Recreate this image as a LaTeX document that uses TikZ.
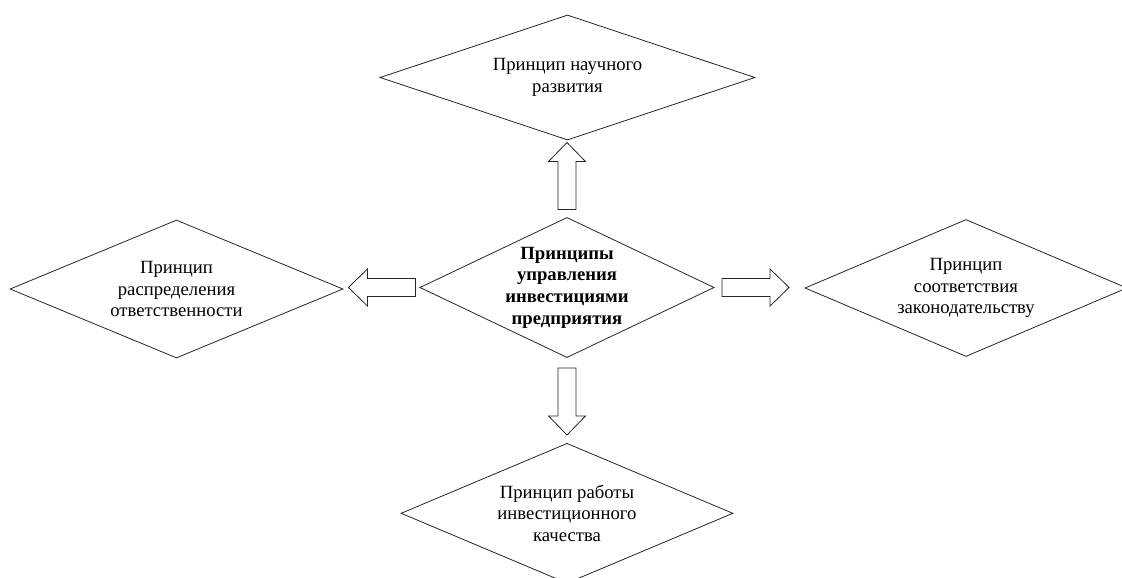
\documentclass[tikz,border=0pt]{standalone}
\usepackage{fontspec}
\setmainfont{Liberation Serif}
\usetikzlibrary{shapes.geometric, calc}
\newcommand{\blockarrow}[2]{
    \begin{scope}[shift={(#1)}, rotate=#2]
        \draw[arrowline] (0,-9) -- (48,-9) -- (48,-18.5) -- (67,0) -- (48,18.5) -- (48,9) -- (0,9) -- cycle;
    \end{scope}
}

\begin{document}
\begin{tikzpicture}[x=0.75pt, y=0.75pt,
    principle/.style={diamond, draw=black!85, line width=0.6pt, inner sep=0pt, align=center, font=\fontsize{14}{16.3}\selectfont},
    arrowline/.style={draw=black!85, line width=0.6pt, line join=miter}
]

% Page frame
\useasboundingbox (0,0) rectangle (1122,-578);

% Central node
\node[principle, font=\fontsize{14}{16.3}\selectfont\bfseries, minimum width=219.75pt, minimum height=104pt, shape aspect=2.1] (main) at (567,-287.5) {Принципы\\управления\\инвестициями\\предприятия};

% Principles around it
\node[principle, minimum width=281.25pt, minimum height=93.75pt, shape aspect=3] (science) at (567.5,-77.5) {Принцип научного\\развития};
\node[principle, minimum width=249.75pt, minimum height=103.5pt, shape aspect=2.4] (duty) at (176.5,-289) {Принцип\\распределения\\ответственности};
\node[principle, minimum width=241.5pt, minimum height=102.75pt, shape aspect=2.35] (law) at (966,-288) {Принцип\\соответствия\\законодательству};
\node[principle, minimum width=249pt, minimum height=105pt, shape aspect=2.37] (quality) at (567,-513.3) {Принцип работы\\инвестиционного\\качества};

% Block arrows from the central node
\blockarrow{$(main.north)+(0,7.5)$}{90}
\blockarrow{$(main.west)+(-4,0)$}{180}
\blockarrow{$(main.east)+(7.5,0)$}{0}
\blockarrow{$(main.south)+(0,-10)$}{-90}

\end{tikzpicture}
\end{document}
